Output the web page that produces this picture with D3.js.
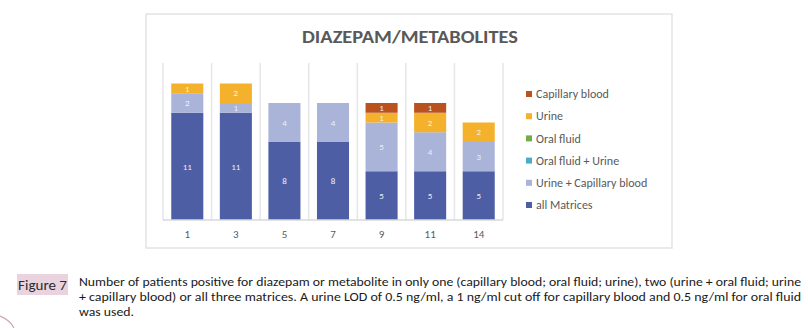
<!DOCTYPE html>
<html>
<head>
<meta charset="utf-8">
<script src="https://cdn.jsdelivr.net/npm/d3@7"></script>
<style>
  body { margin: 0; background: #fff; }
  svg { display: block; }
</style>
</head>
<body>
<svg id="chart" width="808" height="328"></svg>
<script>
// categories (x axis)
const categories = ['1', '3', '5', '7', '9', '11', '14']

// series, bottom to top
const seriesNames = ['all Matrices', 'Urine + Capillary blood', 'Oral fluid + Urine', 'Oral fluid', 'Urine', 'Capillary blood']
const allMatrices = [11, 11, 8, 8, 5, 5, 5]
const urineCapillary = [2, 1, 4, 4, 5, 4, 3]
const oralUrine = [0, 0, 0, 0, 0, 0, 0]
const oralFluid = [0, 0, 0, 0, 0, 0, 0]
const urine = [1, 2, 0, 0, 1, 2, 2]
const capillary = [0, 0, 0, 0, 1, 1, 0]

const captionLines = [
  'Number of patients positive for diazepam or metabolite in only one (capillary blood; oral fluid; urine), two (urine + oral fluid; urine',
  '+ capillary blood) or all three matrices. A urine LOD of 0.5 ng/ml, a 1 ng/ml cut off for capillary blood and 0.5 ng/ml for oral fluid',
  'was used.'
]

const colors = ['#4d5ea5', '#aab3d8', '#4bacc6', '#70ad47', '#f4b12b', '#b9521f']
const seriesValues = [allMatrices, urineCapillary, oralUrine, oralFluid, urine, capillary]

const table = categories.map((c, i) => {
  const row = { cat: c }
  seriesNames.forEach((s, j) => { row[s] = seriesValues[j][i] })
  return row
})

const svg = d3.select('#chart')
const font = "Calibri, Carlito, 'Open Sans', 'Liberation Sans', sans-serif"

// chart box
svg.append('rect')
  .attr('x', 146).attr('y', 14)
  .attr('width', 526).attr('height', 234)
  .attr('fill', '#fff')
  .attr('stroke', '#e3e3e3')
  .attr('stroke-width', 1.5)

// scales
const xScale = d3.scaleBand()
  .domain(categories)
  .range([163, 503])
  .paddingInner(0.34)
  .paddingOuter(0.17)

const yScale = d3.scaleLinear().domain([0, 16]).range([220, 64])

// vertical category separators
const step = xScale.step()
const bounds = d3.range(categories.length + 1).map(i => 163 + i * step)
svg.append('g')
  .selectAll('line')
  .data(bounds)
  .join('line')
  .attr('x1', d => d).attr('x2', d => d)
  .attr('y1', yScale(16) - 1).attr('y2', yScale(0))
  .attr('stroke', '#e6e6e6')
  .attr('stroke-width', 1.5)

// stacked bars
const stack = d3.stack().keys(seriesNames)
const stacked = stack(table)

const layers = svg.append('g')
  .selectAll('g')
  .data(stacked)
  .join('g')
  .attr('fill', (d, i) => colors[i])

layers.selectAll('rect')
  .data(d => d)
  .join('rect')
  .attr('x', d => xScale(d.data.cat))
  .attr('width', xScale.bandwidth())
  .attr('y', d => yScale(d[1]))
  .attr('height', d => yScale(d[0]) - yScale(d[1]))

layers.selectAll('text')
  .data(d => d.filter(p => p[1] - p[0] > 0))
  .join('text')
  .attr('x', d => xScale(d.data.cat) + xScale.bandwidth() / 2)
  .attr('y', d => yScale((d[0] + d[1]) / 2))
  .attr('dy', '0.35em')
  .attr('text-anchor', 'middle')
  .attr('font-family', font)
  .attr('font-size', 9)
  .attr('fill', '#eef0f7')
  .text(d => d[1] - d[0])

// x axis
const xAxis = svg.append('g')
  .attr('transform', 'translate(0,' + yScale(0) + ')')
  .call(d3.axisBottom(xScale).tickSize(0).tickPadding(10))
xAxis.select('.domain')
  .attr('stroke', '#d9d9d9')
  .attr('stroke-width', 1.5)
  .attr('d', 'M163,0H503')
xAxis.selectAll('text')
  .attr('font-family', font)
  .attr('font-size', 11)
  .attr('fill', '#595959')

// title
svg.append('text')
  .attr('x', 410)
  .attr('y', 43)
  .attr('text-anchor', 'middle')
  .attr('font-family', font)
  .attr('font-weight', 'bold')
  .attr('font-size', 17)
  .attr('fill', '#595959')
  .attr('textLength', 216)
  .attr('lengthAdjust', 'spacingAndGlyphs')
  .text('DIAZEPAM/METABOLITES')

// legend (top entry is the top series)
const legendItems = seriesNames.slice().reverse()
const legend = svg.append('g')
  .selectAll('g')
  .data(legendItems)
  .join('g')
  .attr('transform', (d, i) => 'translate(526,' + (94 + i * 22.2) + ')')

legend.append('rect')
  .attr('x', 0).attr('y', -3)
  .attr('width', 6).attr('height', 6)
  .attr('fill', d => colors[seriesNames.indexOf(d)])

legend.append('text')
  .attr('x', 10)
  .attr('dy', '0.35em')
  .attr('font-family', font)
  .attr('font-size', 12)
  .attr('fill', '#595959')
  .text(d => d)

// figure label
svg.append('rect')
  .attr('x', 17).attr('y', 274)
  .attr('width', 51).attr('height', 21)
  .attr('fill', '#e8d3de')

svg.append('text')
  .attr('x', 42.5).attr('y', 289.5)
  .attr('text-anchor', 'middle')
  .attr('font-family', font)
  .attr('font-size', 15)
  .attr('fill', '#2b2b2b')
  .text('Figure 7')

// caption
const lineWidths = [722, 722, 55]
svg.append('g')
  .selectAll('text')
  .data(captionLines)
  .join('text')
  .attr('x', 79)
  .attr('y', (d, i) => 286 + i * 15)
  .attr('font-family', font)
  .attr('font-size', 13)
  .attr('fill', '#1a1a1a')
  .attr('textLength', (d, i) => lineWidths[i])
  .attr('lengthAdjust', 'spacingAndGlyphs')
  .text(d => d)

// decorative corner arc
svg.append('path')
  .attr('d', 'M0,316 Q10,320 14,328')
  .attr('fill', 'none')
  .attr('stroke', '#c9a0b4')
  .attr('stroke-width', 1.2)
</script>
</body>
</html>
